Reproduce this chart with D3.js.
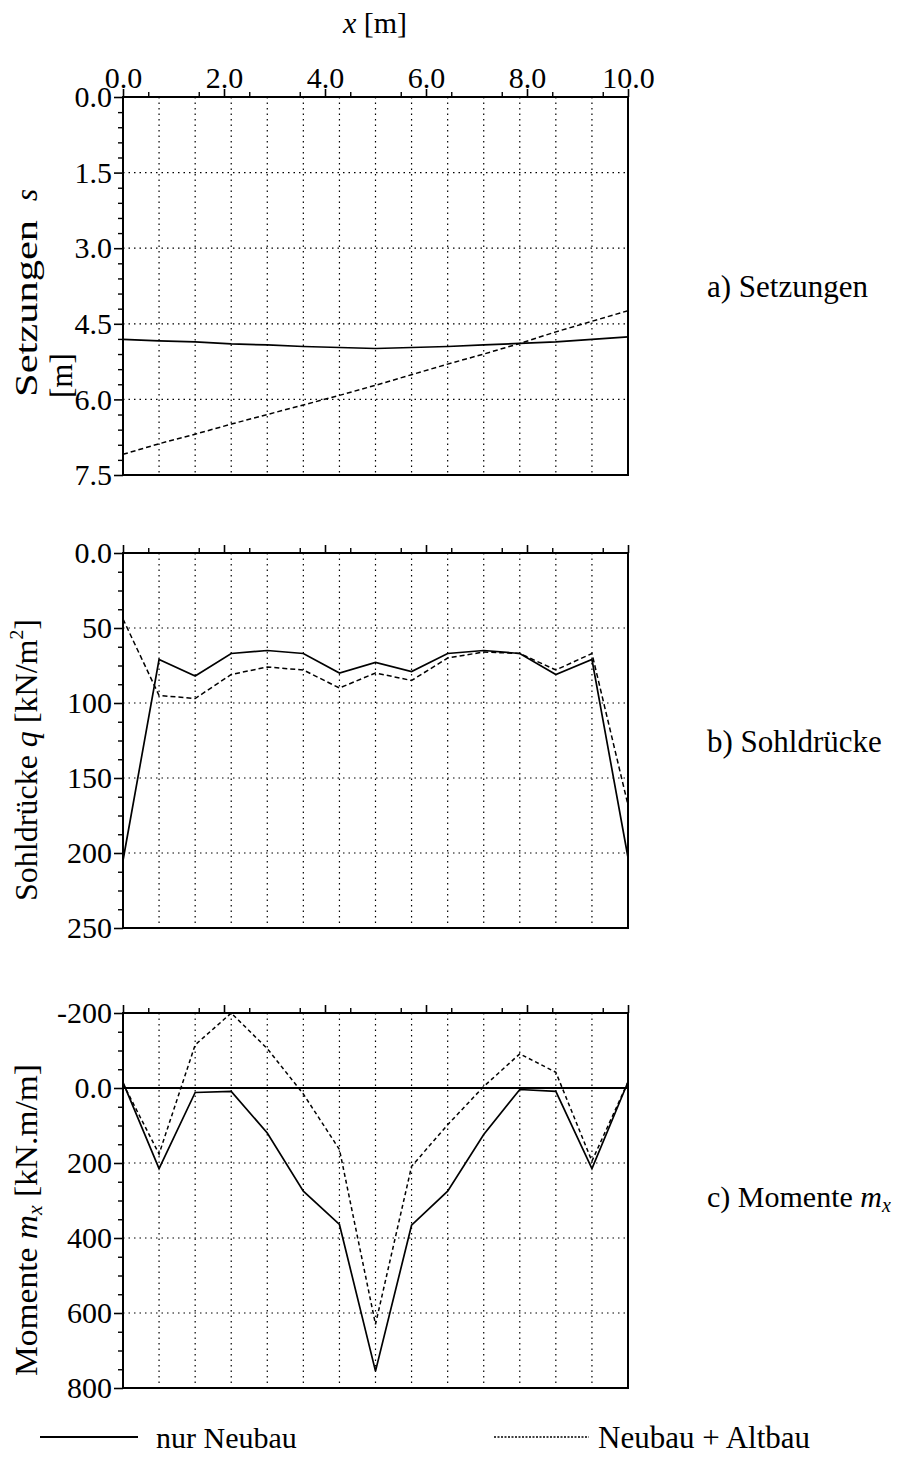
<!DOCTYPE html>
<html>
<head>
<meta charset="utf-8">
<script src="https://cdn.jsdelivr.net/npm/d3@7"></script>
<style>
  html, body { margin: 0; padding: 0; background: #fff; }
  svg { display: block; }
  svg text { font-family: 'Liberation Serif', 'DejaVu Serif', 'Times New Roman', Times, serif; fill: #000; }
</style>
</head>
<body>
<svg id="chart" width="908" height="1458"></svg>
<script>
// ---- data ----
const nodeX = [0, 0.714, 1.429, 2.143, 2.857, 3.571, 4.286, 5.0, 5.714, 6.429, 7.143, 7.857, 8.571, 9.286, 10.0];

const setzNeu = [4.81, 4.84, 4.86, 4.90, 4.92, 4.95, 4.97, 4.99, 4.97, 4.95, 4.92, 4.89, 4.86, 4.81, 4.76];
const setzAlt = [7.09, 6.88, 6.69, 6.49, 6.30, 6.11, 5.92, 5.72, 5.51, 5.30, 5.10, 4.89, 4.66, 4.45, 4.24];

const sohlNeu = [205, 71, 82, 67, 65, 67, 80, 73, 79, 67, 65, 67, 81, 71, 203];
const sohlAlt = [44, 95, 97, 81, 76, 78, 90, 80, 85, 70, 66, 67, 78, 67, 168];

const momNeu = [-15, 215, 12, 9, 120, 275, 364, 755, 366, 275, 124, 4, 9, 215, -16];
const momAlt = [-12, 176, -115, -200, -105, 16, 164, 630, 209, 98, -4, -91, -42, 195, -16];

const xTicksMajor = [0, 2, 4, 6, 8, 10];
const xTickLabels = ["0.0", "2.0", "4.0", "6.0", "8.0", "10.0"];

const setzTicks = [0, 1.5, 3.0, 4.5, 6.0, 7.5];
const setzTickLabels = ["0.0", "1.5", "3.0", "4.5", "6.0", "7.5"];
const sohlTicks = [0, 50, 100, 150, 200, 250];
const sohlTickLabels = ["0.0", "50", "100", "150", "200", "250"];
const momTicks = [-200, 0, 200, 400, 600, 800];
const momTickLabels = ["-200", "0.0", "200", "400", "600", "800"];

const legendLabels = ["nur Neubau", "Neubau + Altbau"];

// ---- layout ----
const svg = d3.select("#chart");
const FONT = "'Liberation Serif', 'DejaVu Serif', 'Times New Roman', Times, serif";
svg.attr("font-family", FONT);
const X0 = 123, X1 = 628;
const x = d3.scaleLinear().domain([0, 10]).range([X0, X1]);

const panels = [
  { top: 97, bottom: 475, domain: [0, 7.5], ticks: setzTicks, labels: setzTickLabels, minor: 0.3,
    neu: setzNeu, alt: setzAlt, grid: [1.5, 3.0, 4.5, 6.0], zero: null, dash: "5,3" },
  { top: 553, bottom: 928, domain: [0, 250], ticks: sohlTicks, labels: sohlTickLabels, minor: 12.5,
    neu: sohlNeu, alt: sohlAlt, grid: [50, 100, 150, 200], zero: null, dash: "5,3" },
  { top: 1013, bottom: 1388, domain: [-200, 800], ticks: momTicks, labels: momTickLabels, minor: 50,
    neu: momNeu, alt: momAlt, grid: [200, 400, 600], zero: 0, dash: "4,3" }
];

panels.forEach((p, pi) => {
  const y = d3.scaleLinear().domain(p.domain).range([p.top, p.bottom]);
  const g = svg.append("g");

  g.selectAll("line.vg").data(nodeX.slice(1, -1)).enter().append("line")
    .attr("x1", d => x(d)).attr("x2", d => x(d))
    .attr("y1", p.top).attr("y2", p.bottom)
    .attr("stroke", "#000").attr("stroke-width", 1.2).attr("stroke-dasharray", "1.5,4");

  g.selectAll("line.hg").data(p.grid).enter().append("line")
    .attr("x1", X0).attr("x2", X1)
    .attr("y1", d => y(d)).attr("y2", d => y(d))
    .attr("stroke", "#000").attr("stroke-width", 1.2).attr("stroke-dasharray", "1.5,4");

  if (p.zero !== null) {
    g.append("line").attr("x1", X0).attr("x2", X1)
      .attr("y1", y(p.zero)).attr("y2", y(p.zero))
      .attr("stroke", "#000").attr("stroke-width", 2);
  }

  g.append("rect").attr("x", X0).attr("y", p.top).attr("width", X1 - X0).attr("height", p.bottom - p.top)
    .attr("fill", "none").attr("stroke", "#000").attr("stroke-width", 2);

  const xAxis = d3.axisTop(x).tickValues(xTicksMajor).tickSize(8)
    .tickFormat((d, i) => pi === 0 ? xTickLabels[i] : "");
  const xa = g.append("g").attr("transform", `translate(0,${p.top})`).call(xAxis);
  xa.attr("font-family", FONT);
  xa.select(".domain").remove();
  xa.selectAll("line").attr("stroke-width", 1.6);
  xa.selectAll("text").attr("font-size", 30).attr("dy", "0.05em");
  const xMinor = d3.axisTop(x).tickValues(d3.range(0.5, 10, 1)).tickSize(5).tickFormat("");
  const xm = g.append("g").attr("transform", `translate(0,${p.top})`).call(xMinor);
  xm.select(".domain").remove();
  xm.selectAll("line").attr("stroke-width", 1.4);

  const yAxis = d3.axisLeft(y).tickValues(p.ticks).tickSize(9)
    .tickFormat((d, i) => p.labels[i]);
  const ya = g.append("g").attr("transform", `translate(${X0},0)`).call(yAxis);
  ya.attr("font-family", FONT);
  ya.select(".domain").remove();
  ya.selectAll("line").attr("stroke-width", 1.6);
  ya.selectAll("text").attr("font-size", 30).attr("x", -11);
  const minorVals = d3.range(p.domain[0], p.domain[1] + 1e-9, p.minor).filter(v => !p.ticks.some(t => Math.abs(t - v) < 1e-6));
  const yMinor = d3.axisLeft(y).tickValues(minorVals).tickSize(5).tickFormat("");
  const ym = g.append("g").attr("transform", `translate(${X0},0)`).call(yMinor);
  ym.select(".domain").remove();
  ym.selectAll("line").attr("stroke-width", 1.4);

  const line = d3.line().x((d, i) => x(nodeX[i])).y(d => y(d));
  g.append("path").datum(p.alt).attr("d", line).attr("fill", "none")
    .attr("stroke", "#000").attr("stroke-width", 1.5).attr("stroke-dasharray", p.dash);
  g.append("path").datum(p.neu).attr("d", line).attr("fill", "none")
    .attr("stroke", "#000").attr("stroke-width", 1.7);
});

// x title
const xt = svg.append("text").attr("x", 375).attr("y", 33).attr("text-anchor", "middle")
  .attr("font-size", 30);
xt.append("tspan").attr("font-style", "italic").text("x");
xt.append("tspan").text(" [m]");

// y titles
svg.append("text").attr("transform", "translate(37,397) rotate(-90)")
  .attr("font-size", 31).attr("textLength", 177).attr("lengthAdjust", "spacingAndGlyphs").text("Setzungen");
svg.append("text").attr("transform", "translate(37,201) rotate(-90)")
  .attr("font-size", 31).attr("font-style", "italic").text("s");
svg.append("text").attr("transform", "translate(72,398) rotate(-90)")
  .attr("font-size", 31).text("[m]");

const tb = svg.append("text").attr("transform", "translate(37,901) rotate(-90)").attr("font-size", 31)
  .attr("textLength", 282).attr("lengthAdjust", "spacingAndGlyphs");
tb.append("tspan").text("Sohldrücke ");
tb.append("tspan").attr("font-style", "italic").text("q");
tb.append("tspan").text(" [kN/m");
tb.append("tspan").attr("font-size", 19).attr("dy", "-0.75em").text("2");
tb.append("tspan").attr("dy", "0.46em").text("]");

const tc = svg.append("text").attr("transform", "translate(37,1376) rotate(-90)").attr("font-size", 31)
  .attr("textLength", 312).attr("lengthAdjust", "spacingAndGlyphs");
tc.append("tspan").text("Momente ");
tc.append("tspan").attr("font-style", "italic").text("m");
tc.append("tspan").attr("font-style", "italic").attr("font-size", 20).attr("dy", "0.25em").text("x");
tc.append("tspan").attr("dy", "-0.16em").text(" [kN.m/m]");

// right panel labels
svg.append("text").attr("x", 707).attr("y", 297).attr("font-size", 31).text("a) Setzungen");
svg.append("text").attr("x", 707).attr("y", 752).attr("font-size", 31).text("b) Sohldrücke");
const rc = svg.append("text").attr("x", 707).attr("y", 1207).attr("font-size", 30);
rc.append("tspan").text("c) Momente ");
rc.append("tspan").attr("font-style", "italic").text("m");
rc.append("tspan").attr("font-style", "italic").attr("font-size", 20).attr("dy", "0.25em").text("x");

// legend
svg.append("line").attr("x1", 40).attr("x2", 138).attr("y1", 1437).attr("y2", 1437)
  .attr("stroke", "#000").attr("stroke-width", 2);
svg.append("text").attr("x", 156).attr("y", 1448).attr("font-size", 30).text(legendLabels[0]);
svg.append("line").attr("x1", 494).attr("x2", 589).attr("y1", 1437).attr("y2", 1437)
  .attr("stroke", "#000").attr("stroke-width", 1.5).attr("stroke-dasharray", "2,1.5");
svg.append("text").attr("x", 598).attr("y", 1448).attr("font-size", 31).text(legendLabels[1]);
</script>
</body>
</html>
